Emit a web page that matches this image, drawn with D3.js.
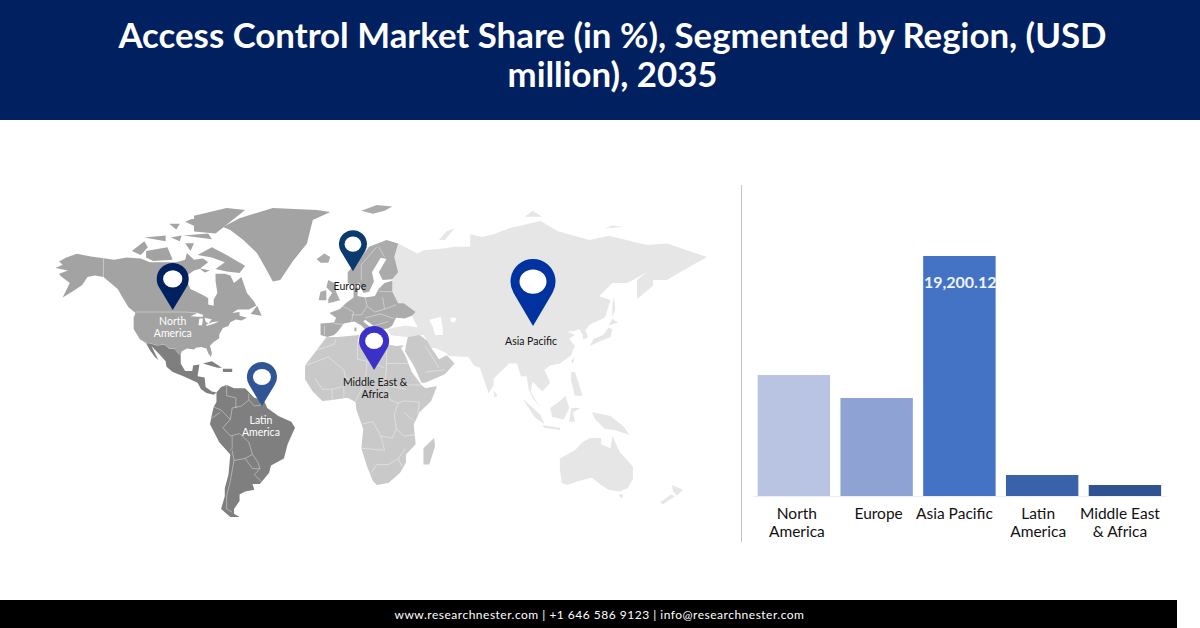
<!DOCTYPE html>
<html>
<head>
<meta charset="utf-8">
<title>Access Control Market Share</title>
<script src="https://cdn.jsdelivr.net/npm/d3@7"></script>
<style>
    html, body { margin: 0; padding: 0; background: #fff; }
    svg { display: block; font-family: Lato, sans-serif; }
</style>
</head>
<body>
<div id="chart"></div>
<script>
// bar chart data
var categories = ["North America", "Europe", "Asia Pacific", "Latin America", "Middle East & Africa"];
var marketValues = [9680, 7840, 19200.12, 1680, 880];
var valueLabels = ["", "", "19,200.12", "", ""];
var categoryLines = [["North", "America"], ["Europe"], ["Asia Pacific"], ["Latin", "America"], ["Middle East", "& Africa"]];

var titleLines = ["Access Control Market Share (in %), Segmented by Region, (USD", "million), 2035"];
var footerText = "www.researchnester.com | +1 646 586 9123 | info@researchnester.com";

// map pins: lon / lat of the pin tip
var pinNames = [["North", "America"], ["Europe"], ["Asia Pacific"], ["Latin", "America"], ["Middle East &", "Africa"]];
var pinLon = [-102, 7.7, 100.2, -52.9, 18.6];
var pinLat = [49.7, 62.3, 41.7, 2, 19];

// land outlines as [lon, lat], simplified by hand
var northAmericaLand = [
    [[-168,65.6],[-164,67],[-166,68.3],[-162,70],[-156,71.3],[-148,70.4],[-141,69.7],[-135,69],[-128,70],[-120,69.5],[-115,68],[-108,68],[-100,68],[-95,69],[-94,71.5],[-90,69],[-85,69.5],[-82,68],[-87,65],[-90,64],[-94,61],[-94,59],[-92,57],[-85,55.5],[-82,54.5],[-82,52],[-79,51.5],[-79,54],[-77,56],[-78,59],[-78,62],[-73,62],[-70,61],[-68,58.5],[-64,60],[-61,56],[-57,53],[-56,51.5],[-60,50],[-66,50],[-69,48.5],[-65,49],[-65,47],[-61,46],[-64,44.5],[-67,45],[-70,43.5],[-71,41.5],[-74,40.5],[-76,37],[-76,35],[-79,33],[-81,31],[-80,27],[-80.5,25],[-82,27],[-83,29.5],[-86,30.3],[-89,30],[-90,29],[-94,29.5],[-97,28],[-97.5,26],[-99,27],[-101,29.5],[-104,29.5],[-106.5,31.7],[-111,31.3],[-115,32.5],[-117,32.5],[-120.5,34.5],[-122.5,37.5],[-124,40],[-124,46],[-123,48.5],[-127,51],[-130,54.5],[-133,57],[-137,58.5],[-141,60],[-146,61],[-150,60],[-153,58],[-158,56.5],[-164,54.8],[-160,58.5],[-165,60.5],[-166,62],[-161,64]],
    [[-80,73],[-72,71],[-62,66.5],[-65,62.5],[-72,63.5],[-78,65],[-73,68],[-80,70],[-88,71]],
    [[-117,72],[-105,73],[-102,69],[-113,68.5],[-117,70]],
    [[-125,72],[-118,74.5],[-116,73],[-120,71]],
    [[-90,77],[-78,76.5],[-62,82.5],[-72,83],[-90,81]],
    [[-96,76],[-80,75],[-82,76.5]],
    [[-118,75.5],[-106,76],[-106,74.5]],
    [[-95,79.5],[-88,78],[-87,81]],
    [[-95,74],[-90,74],[-92,72]],
    [[-103,75.5],[-97,76],[-98,74.5]],
    [[-104,79],[-98,79],[-100,77.5]],
    [[-87,65.5],[-81,64],[-84,62.8]],
    [[-59,48],[-55.5,51.5],[-53,47]]
];
var greenlandLand = [
    [[-74,75.5],[-65,78.5],[-47,82],[-11,81.3],[-4,80.6],[-13,77.9],[-16,70],[-36,65],[-43,60],[-47,59.5],[-50,62.3],[-55.6,67.2],[-63,71],[-70,74.4]]
];
var latinAmericaLand = [
    [[-117,32.5],[-115,32.5],[-111,31.3],[-106.5,31.7],[-104,29.5],[-101,29.5],[-99,27],[-97.5,26],[-97.5,22],[-95,18.5],[-91,18.5],[-90.5,21],[-87,21.5],[-88,16],[-84,15.5],[-83.5,11],[-80,9],[-77.5,8.5],[-79,7.5],[-83,8.2],[-86,10],[-88,13],[-92,14.5],[-96,16],[-102,18],[-105.5,20.5],[-106,23],[-109,26],[-112,29],[-114,31],[-112,27],[-110,23.5],[-112,25],[-115,29]],
    [[-85,22],[-80,23],[-74.5,20],[-77,20]],
    [[-74,19.5],[-69,19.5],[-69,18],[-74,18]],
    [[-77.5,8.5],[-75,11],[-72,12],[-68,10.5],[-62,10.5],[-57,6],[-52,5],[-50,1],[-44,-2.5],[-37,-5],[-35,-7.5],[-39,-15],[-41,-22],[-48,-25.5],[-49,-29],[-54,-34.5],[-58,-34.5],[-57,-38],[-62,-39],[-65,-41],[-65,-45],[-68,-50],[-68,-53],[-65,-55],[-70,-55],[-75,-50],[-73,-42],[-73,-37],[-71,-30],[-70,-20],[-76,-14],[-81,-6],[-80,-2],[-79,1.5],[-77.5,4],[-77.5,7]]
];
var europeLand = [
    [[-9,37],[-9,43],[-2,43.5],[-1,46],[-4.5,48.5],[1,50],[4,52],[8,54],[8,57],[10.5,57.5],[10,54.5],[14,54],[19,54.5],[21,57],[24,59],[28,59.7],[28,56],[31,52],[34,52],[40,49],[38,47],[34,45.5],[30,46],[28,42],[26,40.5],[23,40],[24,37.5],[21.5,37],[19.5,41],[14,45],[13,44],[18,40],[16,38],[12,42],[8.5,44],[3,43],[0,39],[-2,37],[-5.5,36]],
    [[5,59],[5,62],[12,66],[16,69],[25,71],[31,70],[29,66],[31,62],[28,60.2],[23,60],[21,62],[25,65.5],[22,65.8],[17.5,62],[18.5,59.5],[16,56],[13,55.5],[11,59],[8,58]],
    [[-5,52],[1,53],[-1,56],[-2,59],[-5,60],[-6,57.5],[-3,55.5],[-5,53.5]],
    [[-10,53],[-6,53],[-6,56.5],[-9,56]],
    [[-11,65.5],[-7,67],[-4,66],[-5,64.5],[-9,64.5]],
    [[12,81],[20,83],[28,82.5],[24,81],[18,80]],
    [[8.5,39],[9.5,39],[9.5,41],[8.5,41]],
    [[12.5,38],[15.5,38.2],[15,36.8]]
];
var asiaLand = [
    [[31,70],[41,67],[44,68],[54,68.5],[60,69],[68,69],[68,73],[74,72],[80,73],[88,75],[104,77.5],[113,74],[130,71],[140,72.5],[160,69.5],[170,70],[190,66],[178,62.5],[170,60],[163,60],[163,58],[155,53.5],[155,60],[160,62],[150,59],[142,59],[135,54.5],[141,53],[138,46],[130,42.5],[127.5,39.5],[129,36],[126.5,34.5],[126,37.5],[124.5,40],[121,39],[118,39],[122,37],[119,35],[122,31],[120,26],[114,22],[109,21],[106,19],[109,13],[105,9],[100,13.5],[99,9],[103.5,1.5],[100,6],[98,10],[97,16],[94,16],[92,22],[88,22],[80,15],[80,12],[77.5,8],[73,20],[70,21],[67,25],[57,25.5],[56,27],[50,30],[48,30],[46,34],[44,37],[36,36],[30,36.5],[27,37],[26,40],[29,41],[35,42],[41,41],[38,47],[40,49],[34,52],[31,52],[28,56],[28,60],[31,62],[29,66]],
    [[130,31],[136,34],[141,36],[142,40],[140,41],[137,37],[132,35]],
    [[140,42],[145,43.5],[142,45.5]],
    [[142,46],[143.5,50],[143,54],[142,52]],
    [[80,9.5],[82,7],[80.5,6]],
    [[120,23],[122,25],[121,22]],
    [[120,18],[122,18],[124,13],[126,7],[122,7],[120,14]],
    [[109,1],[114,4.5],[117,7],[119,1],[116,-4],[110,-3]],
    [[95,5.5],[104,-2],[106,-6],[101,-3]],
    [[105,-6.5],[114,-7.5],[114,-8.5],[106,-7.5]],
    [[119,-5],[120,1],[125,1],[121,-1],[122,-5]],
    [[131,-1],[141,-2.5],[148,-7],[151,-10.5],[143,-8.5],[138,-8],[133,-4]],
    [[114,-22],[122,-18],[126,-14],[130,-12],[136,-12],[136,-15],[141,-17],[142,-11],[146,-19],[153,-26],[153,-32],[150,-37],[146,-39],[140,-38],[136,-35],[131,-31.5],[124,-33],[118,-35],[115,-34],[114,-27]],
    [[145,-41],[148,-41],[147,-43.5]],
    [[172.5,-35],[178,-38],[175,-41.5],[173,-39]],
    [[172,-41],[174,-42],[168,-47],[166.5,-46]],
    [[52,71],[56,74],[68,77],[60,75],[55,71]],
    [[96,79],[105,79],[100,81]],
    [[138,75],[148,75.5],[142,76]]
];
var middleEastAfricaLand = [
    [[-6,35.8],[-17,21],[-17,14.7],[-13,9],[-8,4.5],[-3,5],[5,6],[9,4],[9.5,0],[13,-8],[12,-17],[15,-26],[18,-33],[20,-35],[26,-34],[32,-29],[35,-24],[35,-20],[40,-15],[39,-6],[42,-1],[48,4.5],[51,11.5],[45,10.5],[43,12],[38,18],[35,25],[32.5,30],[34,31.5],[30,31],[25,32],[20,31],[19,32.5],[10,33.5],[11,37],[0,36]],
    [[49.5,-12],[50,-16],[47,-25],[44,-25],[44,-17]],
    [[34.5,28],[35,31.5],[36,36],[42,37],[46,34],[48,30],[50,27],[52,24],[56,26],[60,22],[55,17],[45,13],[43,13],[39,21]]
];
var greatLakes = [
    [[-92,46.8],[-88,48.5],[-85,47.5],[-85,46.5],[-88,46.5]],
    [[-87.5,42],[-85.5,42],[-85,45.5],[-87,45.5]],
    [[-84,46],[-80,45],[-82,42.7],[-83.5,44]],
    [[-83,41.5],[-79,42.8],[-76,44],[-79.5,43.7],[-83,42.3]]
];
var inlandSeas = [
    [[47,45],[53,46.5],[54,40],[54,37],[50,37],[49,41]],
    [[58,46],[61,46],[60,43.5],[58,44]],
    [[28,42],[30,46],[34,45.5],[37,45],[41,42],[35,42],[30,41.3]]
];
var northAmericaBorders = [
    [[-141,69.7],[-141,60]], [[-123,49],[-95,49],[-88,48.5]]
];
var borderLines = [
    [[-60,5],[-64,2],[-69,1],[-70,-4],[-74,-7.5],[-70,-11],[-65,-10],[-60,-14],[-58,-20],[-55,-24],[-54,-27],[-57,-30],[-53,-33.5]],
    [[-72,12],[-72,7],[-67,6],[-67,1]], [[-79,1.5],[-75,0],[-70,-4]], [[-80,-3.5],[-75.5,-1]],
    [[-69,-11],[-69,-17],[-70,-18]], [[-69,-18],[-68,-23],[-70,-33],[-72,-42],[-72,-50],[-69,-52]],
    [[-68,-23],[-62,-22],[-58,-20]], [[-62,-22],[-58,-27],[-54,-27]], [[-60,8],[-60,5],[-57,2],[-54,2.3],[-52,5]],
    [[25,32],[25,20]], [[25,20],[24,12],[27,5],[31,3.5],[34,4.5],[42,4],[41,-2]], [[10,33],[10,24],[15,23],[24,20]],
    [[25,22],[37,22]], [[-17,21],[-5,25],[3,19],[4,15],[14,13],[15,23]], [[3,6],[3,12],[14,13],[9,4.5]],
    [[12,-6],[18,-5],[22,-11],[28,-12],[30,-8],[29,-2],[31,3.5]], [[12,-17],[24,-18],[22,-11]],
    [[17,-29],[20,-25],[26,-25],[31,-22],[33,-26]], [[40,-10.5],[34,-11],[30,-8]], [[34,-1],[39,-4.5]],
    [[35,12],[43,12]], [[-13,28],[-2,32],[-1,35]], [[-12,15],[-8,10],[-3,10],[2,11]], [[-3,5],[-3,10]],
    [[24,12],[35,10]], [[35,-17],[31,-22]], [[45,31],[52,20]], [[45,18],[55,19]],
    [[-2,43],[3,42.5]], [[-7,37],[-7,42]], [[2.5,51],[8,49],[7,44]], [[14,54],[15,51],[12,47.5],[7,47.5]],
    [[23,54],[24,50],[19,49],[15,51]], [[24,50],[30,51.5]], [[22,48],[29,45.5]], [[14,46],[22,48]], [[19,42],[26,44]],
    [[21,56],[28,56]], [[12,60],[12,64],[20,69]], [[24,66],[21,69]]
];

// colours and layout
var barColors = ["#b8c4e2", "#8fa2d4", "#4472c4", "#3a62aa", "#2f5291"];
var pinColors = ["#002060", "#0b3a6f", "#0033a0", "#2f5597", "#3b30c8"];
var pinWidths = [32, 28, 45, 30, 30];
var pinHeights = [47, 41, 67, 44, 44];
var pinLabelColors = ["#fff", "#111", "#111", "#fff", "#111"];
var pinLabelDx = [0, -3, -2, -1, 1];
var pinLabelDy = [15, 19, 19, 18, 16];
var tickLabelDx = [3, 2, -5, -4, -5];

var w = 1200;
var h = 628;

var svg = d3.select("#chart")
            .append("svg")
            .attr("width", w)
            .attr("height", h);

// header and footer
svg.append("rect").attr("width", w).attr("height", 120).attr("fill", "#002060");
svg.append("rect").attr("y", 600).attr("width", 1177).attr("height", 28).attr("fill", "#000");

svg.selectAll(".title")
    .data(titleLines)
    .enter()
    .append("text")
    .attr("class", "title")
    .attr("x", 612.5)
    .attr("y", function(d, i) { return 48 + i * 39; })
    .attr("text-anchor", "middle")
    .attr("fill", "#fff")
    .attr("font-weight", 700)
    .attr("font-size", 34.8)
    .text(function(d) { return d; });

svg.append("text")
    .attr("x", 599.5)
    .attr("y", 619)
    .attr("text-anchor", "middle")
    .attr("fill", "#fff")
    .attr("font-size", 12)
    .attr("letter-spacing", 0.5)
    .text(footerText);

// the picture's map is not a regular projection, so lon and lat go
// through piecewise scales with knots
var mapX = d3.scaleLinear()
    .domain([-170, -81, -35, -17, 51, 113, 153, 190])
    .range([52, 210, 295, 305, 437, 558, 633, 707]);
var mapY = d3.scaleLinear()
    .domain([83, 71, 66, 60, 49, 36, 25, 5, 0, -11, -35, -55])
    .range([205, 240, 257, 280, 312, 337, 357, 400, 410, 436, 485, 517]);
// north of the US border Canada and Alaska sit lower than Eurasia does
var mapYNorthAmerica = d3.scaleLinear()
    .domain([83, 71, 65.6, 60, 55, 49, 25])
    .range([208, 255, 268, 277, 297, 312, 357]);

function makePath(yScale) {
    return d3.geoPath(d3.geoTransform({
        point: function(lon, lat) {
            this.stream.point(mapX(lon), yScale(lat));
        }
    }));
}
var mapPath = makePath(mapY);
var northAmericaPath = makePath(mapYNorthAmerica);

function drawLand(rings, color, path) {
    svg.append("path")
        .datum({type: "MultiPolygon", coordinates: rings.map(function(r) { return [r.concat([r[0]])]; })})
        .attr("d", path)
        .attr("fill", color);
}

function drawBorders(lines, path) {
    svg.append("path")
        .datum({type: "MultiLineString", coordinates: lines})
        .attr("d", path)
        .attr("fill", "none")
        .attr("stroke", "#fff")
        .attr("stroke-opacity", 0.55)
        .attr("stroke-width", 0.7);
}

drawLand(asiaLand, "#e6e6e6", mapPath);
drawLand(middleEastAfricaLand, "#c9c9c9", mapPath);
drawLand(europeLand, "#ababab", mapPath);
drawLand(northAmericaLand, "#a3a3a3", northAmericaPath);
drawLand(greenlandLand, "#a3a3a3", mapPath);
drawLand(latinAmericaLand, "#7f7f7f", mapPath);
drawLand(greatLakes, "#fff", northAmericaPath);
drawLand(inlandSeas, "#fff", mapPath);
drawBorders(northAmericaBorders, northAmericaPath);
drawBorders(borderLines, mapPath);

// teardrop pin with its tip on 0,0
function pinPath(width, height) {
    var r = width / 2;
    var d = height - r;
    var a = Math.asin(r / d);
    var p = d3.path();
    p.moveTo(0, 0);
    p.arc(0, -d, r, Math.PI - a, 2 * Math.PI + a, false);
    p.closePath();
    return p.toString();
}

var pins = svg.selectAll(".pin")
    .data(pinNames)
    .enter()
    .append("g")
    .attr("class", "pin")
    .attr("transform", function(d, i) {
        return "translate(" + mapX(pinLon[i]) + "," + mapY(pinLat[i]) + ")";
    });

pins.append("path")
    .attr("d", function(d, i) { return pinPath(pinWidths[i], pinHeights[i]); })
    .attr("fill", function(d, i) { return pinColors[i]; });

pins.append("ellipse")
    .attr("cy", function(d, i) { return -(pinHeights[i] - pinWidths[i] / 2); })
    .attr("rx", function(d, i) { return pinWidths[i] * 0.3; })
    .attr("ry", function(d, i) { return pinWidths[i] * 0.27; })
    .attr("fill", "#fff");

pins.each(function(d, i) {
    var label = d3.select(this).append("text")
        .attr("text-anchor", "middle")
        .attr("font-size", 10.5)
        .attr("fill", pinLabelColors[i]);
    d.forEach(function(line, j) {
        label.append("tspan")
            .attr("x", pinLabelDx[i])
            .attr("y", pinLabelDy[i] + j * 12)
            .text(line);
    });
});

// divider between map and bars
svg.append("line")
    .attr("x1", 741.5).attr("x2", 741.5)
    .attr("y1", 185).attr("y2", 542)
    .attr("stroke", "#c4c4c4");

// bar chart
var x = d3.scaleBand()
    .domain(categories)
    .range([752.5, 1166.3])
    .paddingInner(0.125)
    .paddingOuter(0.0625);
var y = d3.scaleLinear()
    .domain([0, 19200.12])
    .range([496, 256]);

svg.selectAll(".bar")
    .data(categories)
    .enter()
    .append("rect")
    .attr("class", "bar")
    .attr("x", function(d) { return x(d); })
    .attr("y", function(d, i) { return y(marketValues[i]); })
    .attr("width", x.bandwidth())
    .attr("height", function(d, i) { return y(0) - y(marketValues[i]); })
    .attr("fill", function(d, i) { return barColors[i]; });

svg.selectAll(".value")
    .data(categories)
    .enter()
    .append("text")
    .attr("class", "value")
    .attr("x", function(d) { return x(d) + x.bandwidth() / 2 + 0.8; })
    .attr("y", 288)
    .attr("text-anchor", "middle")
    .attr("fill", "#eef3fb")
    .attr("font-size", 16)
    .attr("font-weight", 700)
    .text(function(d, i) { return valueLabels[i]; });

var xAxis = d3.axisBottom(x).tickSize(0).tickFormat("");
var axisG = svg.append("g")
    .attr("transform", "translate(0,496)")
    .call(xAxis);
axisG.select(".domain").attr("stroke", "#eeeeee");

// tick labels wrap on two lines, so they go in by hand on the axis ticks
axisG.selectAll(".tick text").each(function(d, i) {
    var t = d3.select(this)
        .attr("y", 0)
        .attr("dy", null)
        .attr("fill", "#111")
        .attr("font-family", "Lato, sans-serif")
        .attr("font-size", 15.5);
    categoryLines[i].forEach(function(line, j) {
        t.append("tspan")
            .attr("x", tickLabelDx[i])
            .attr("y", 23 + j * 17.5)
            .text(line);
    });
});
</script>
</body>
</html>
